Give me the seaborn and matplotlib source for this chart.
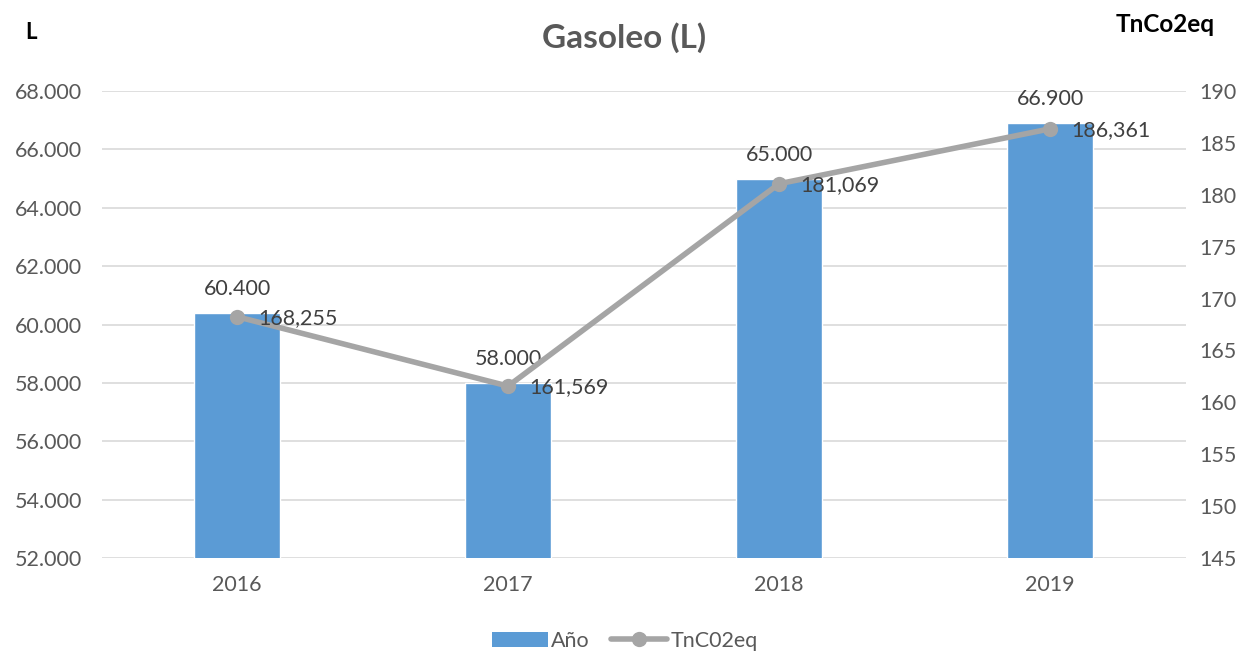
import matplotlib
matplotlib.use("Agg")
import matplotlib.pyplot as plt
import matplotlib.ticker as mticker
from matplotlib.lines import Line2D
from matplotlib.patches import Patch
import seaborn as sns
import numpy as np
import pandas as pd

years = ["2016", "2017", "2018", "2019"]
litros = [60400, 58000, 65000, 66900]
tnco2 = [168.255, 161.569, 181.069, 186.361]
tnco2_labels = ["168,255", "161,569", "181,069", "186,361"]
litros_labels = ["60.400", "58.000", "65.000", "66.900"]

sns.set_theme(style="white")
plt.rcParams['font.family'] = ['Lato', 'DejaVu Sans']

BLUE = "#5B9BD5"
GREY = "#A5A5A5"
TXT = "#595959"

fig = plt.figure(figsize=(12.49, 6.55), dpi=100)
ax = fig.add_axes([0.0813, 0.148, 0.868, 0.713])

df = pd.DataFrame({"year": years, "L": litros})
sns.barplot(data=df, x="year", y="L", color=BLUE, width=0.315, ax=ax, saturation=1)
ax.set_ylim(52000, 68000)
ax.set_xlim(-0.5, 3.5)
ax.set_yticks(np.arange(52000, 68001, 2000))
ax.yaxis.set_major_formatter(mticker.FuncFormatter(lambda v, p: f"{int(v):,}".replace(",", ".")))
ax.grid(axis="y", color="#D9D9D9", linewidth=1.2)
ax.set_axisbelow(True)
for s in ax.spines.values():
    s.set_visible(False)
ax.set_xlabel("")
ax.set_ylabel("")
ax.tick_params(axis="both", length=0, labelsize=15.5, labelcolor=TXT)
ax.tick_params(axis="y", pad=14)
ax.tick_params(axis="x", pad=12)

ax2 = ax.twinx()
ldf = pd.DataFrame({"x": np.arange(len(years)), "t": tnco2})
sns.lineplot(data=ldf, x="x", y="t", color=GREY, linewidth=4, marker="o",
             markersize=11, markeredgewidth=0, ax=ax2)
ax2.set_ylim(145, 190)
ax2.set_yticks(np.arange(145, 191, 5))
for s in ax2.spines.values():
    s.set_visible(False)
ax2.set_ylabel("")
ax2.set_xlabel("")
ax2.tick_params(axis="y", length=0, labelsize=15.5, labelcolor=TXT, pad=10)
ax2.grid(False)

for i, (v, lab) in enumerate(zip(litros, litros_labels)):
    ax.annotate(lab, (i, v), xytext=(0, 10), textcoords="offset points",
                ha="center", va="bottom", fontsize=15.5, color="#404040")
for i, (v, lab) in enumerate(zip(tnco2, tnco2_labels)):
    ax2.annotate(lab, (i, v), xytext=(15, -1), textcoords="offset points",
                 ha="left", va="center", fontsize=15.5, color="#404040")

fig.text(0.5, 0.942, "Gasoleo (L)", ha="center", va="center", fontsize=24,
         fontweight="bold", color=TXT)
fig.text(0.025, 0.95, "L", ha="center", va="center", fontsize=16, fontweight="bold", color="black")
fig.text(0.933, 0.962, "TnCo2eq", ha="center", va="center", fontsize=17.5, fontweight="bold", color="black")

handles = [Patch(facecolor=BLUE, edgecolor="none"),
           Line2D([0], [0], color=GREY, linewidth=4, marker="o", markersize=11, markeredgewidth=0)]
fig.legend(handles, ["Año", "TnC02eq"], loc="center", bbox_to_anchor=(0.5, 0.022),
           ncol=2, frameon=False, fontsize=15.5, handlelength=2.6, columnspacing=1.0,
           handletextpad=0.15, labelcolor=TXT)

fig.savefig("out.png", dpi=100)
